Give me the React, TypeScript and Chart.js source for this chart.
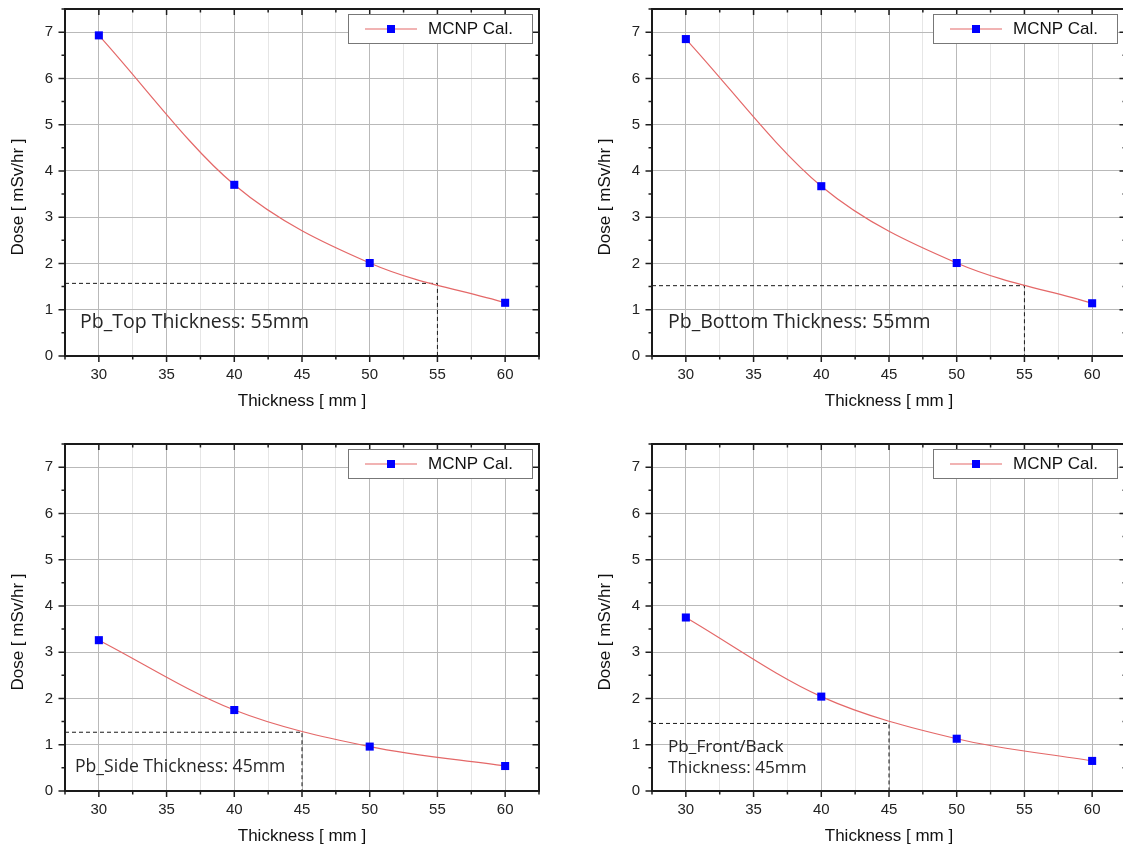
import React, { useEffect, useRef } from "react";
import { Chart, registerables } from "chart.js";

Chart.register(...registerables);

// ---------------- data ----------------
const thickness = [30, 40, 50, 60];
const doseTop = [6.93, 3.7, 2.01, 1.15];
const doseBottom = [6.85, 3.67, 2.01, 1.14];
const doseSide = [3.26, 1.75, 0.96, 0.54];
const doseFrontBack = [3.75, 2.04, 1.13, 0.65];

const designThickness = [55, 55, 45, 45];
const designDose = [1.57, 1.52, 1.27, 1.46];

const noteTop = ["Pb_Top Thickness: 55mm"];
const noteBottom = ["Pb_Bottom Thickness: 55mm"];
const noteSide = ["Pb_Side Thickness: 45mm"];
const noteFrontBack = ["Pb_Front/Back", "Thickness: 45mm"];

const xRange = [27.5, 62.5];
const yRange = [0, 7.5];
const xStep = 2.5;
const yStep = 0.5;

const seriesLabel = "MCNP Cal.";
const xTitle = "Thickness [ mm ]";
const yTitle = "Dose [ mSv/hr ]";

// ---------------- layout ----------------
const PANEL_W = 560;
const PANEL_H = 420;

type PanelSpec = {
  dose: number[];
  cutX: number;
  cutY: number;
  note: string[];
  left: number;
  top: number;
  noteDx: number;
  noteY: number[];
  noteSize: number;
  legendInset: number;
};

const panels: PanelSpec[] = [
  { dose: doseTop, cutX: designThickness[0], cutY: designDose[0], note: noteTop, left: 0, top: 0, noteDx: 15, noteY: [322], noteSize: 19.5, legendInset: 7 },
  { dose: doseBottom, cutX: designThickness[1], cutY: designDose[1], note: noteBottom, left: 587, top: 0, noteDx: 16, noteY: [322], noteSize: 19.5, legendInset: 9 },
  { dose: doseSide, cutX: designThickness[2], cutY: designDose[2], note: noteSide, left: 0, top: 435, noteDx: 10, noteY: [332], noteSize: 17.6, legendInset: 7 },
  { dose: doseFrontBack, cutX: designThickness[3], cutY: designDose[3], note: noteFrontBack, left: 587, top: 435, noteDx: 16, noteY: [312, 333], noteSize: 17.2, legendInset: 9 },
];

const AXIS_FONT = '"Liberation Sans", Arial, sans-serif';
const NOTE_FONT = '"Open Sans", "Noto Sans", sans-serif';

function isMultiple(v: number, m: number) {
  const r = Math.abs(v / m - Math.round(v / m));
  return r < 1e-6;
}

function makeDecor(spec: PanelSpec) {
  return {
    id: "decor",
    afterDraw(chart: any) {
      const { ctx, chartArea: a, scales } = chart;
      const xs = scales.x;
      const ys = scales.y;
      ctx.save();

      // tick marks
      ctx.strokeStyle = "#1e1e1e";
      ctx.lineWidth = 1.5;
      ctx.beginPath();
      for (let v = xRange[0]; v <= xRange[1] + 1e-9; v += xStep) {
        const px = xs.getPixelForValue(v);
        const len = isMultiple(v, 5) ? 6 : 3.5;
        ctx.moveTo(px, a.bottom);
        ctx.lineTo(px, a.bottom + len);
        ctx.moveTo(px, a.top);
        ctx.lineTo(px, a.top + len);
      }
      for (let v = yRange[0]; v <= yRange[1] + 1e-9; v += yStep) {
        const py = ys.getPixelForValue(v);
        const len = isMultiple(v, 1) ? 6.5 : 3.5;
        ctx.moveTo(a.left, py);
        ctx.lineTo(a.left - len, py);
        ctx.moveTo(a.right, py);
        ctx.lineTo(a.right - len, py);
      }
      ctx.stroke();

      // frame
      ctx.lineWidth = 2;
      ctx.strokeStyle = "#1a1a1a";
      ctx.strokeRect(a.left, a.top, a.right - a.left, a.bottom - a.top);

      // axis titles
      ctx.fillStyle = "#111";
      ctx.font = `17px ${AXIS_FONT}`;
      ctx.textAlign = "center";
      ctx.textBaseline = "middle";
      ctx.fillText(xTitle, (a.left + a.right) / 2, 401);
      ctx.save();
      ctx.translate(18.5, 197);
      ctx.rotate(-Math.PI / 2);
      ctx.fillText(yTitle, 0, 0);
      ctx.restore();

      // legend
      const bw = 184;
      const bh = 29;
      const bx = a.right - spec.legendInset - bw;
      const by = a.top + 5;
      ctx.fillStyle = "#ffffff";
      ctx.fillRect(bx, by, bw, bh);
      ctx.lineWidth = 1;
      ctx.strokeStyle = "#777";
      ctx.strokeRect(bx + 0.5, by + 0.5, bw, bh);
      const my = by + bh / 2 + 0.5;
      ctx.strokeStyle = "#e46868";
      ctx.lineWidth = 1.2;
      ctx.beginPath();
      ctx.moveTo(bx + 17, my);
      ctx.lineTo(bx + 69, my);
      ctx.stroke();
      ctx.fillStyle = "#0000ff";
      ctx.fillRect(bx + 39, my - 4, 8, 8);
      ctx.fillStyle = "#111";
      ctx.font = `17px ${AXIS_FONT}`;
      ctx.textAlign = "left";
      ctx.textBaseline = "middle";
      ctx.fillText(seriesLabel, bx + 80, my);

      // annotation
      ctx.fillStyle = "#262626";
      ctx.font = `${spec.noteSize}px ${NOTE_FONT}`;
      ctx.textAlign = "left";
      ctx.textBaseline = "middle";
      spec.note.forEach((line, i) => {
        ctx.fillText(line, a.left + spec.noteDx, spec.noteY[i]);
      });

      ctx.restore();
    },
  };
}

function Panel({ spec }: { spec: PanelSpec }) {
  const ref = useRef<HTMLCanvasElement | null>(null);

  useEffect(() => {
    if (!ref.current) return;
    const points = thickness.map((t, i) => ({ x: t, y: spec.dose[i] }));
    const guide = [
      { x: xRange[0], y: spec.cutY },
      { x: spec.cutX, y: spec.cutY },
      { x: spec.cutX, y: yRange[0] },
    ];
    const chart = new Chart(ref.current, {
      type: "scatter",
      data: {
        datasets: [
          {
            label: seriesLabel,
            data: points,
            showLine: false,
            pointStyle: "rect",
            pointRadius: 5.7,
            pointHoverRadius: 5.7,
            pointBackgroundColor: "#0000ff",
            pointBorderColor: "#0000ff",
            pointBorderWidth: 0,
          },
          {
            label: "fit",
            data: points,
            showLine: true,
            pointRadius: 0,
            borderColor: "#e46868",
            borderWidth: 1.2,
            cubicInterpolationMode: "monotone",
          },
          {
            label: "guide",
            data: guide,
            showLine: true,
            pointRadius: 0,
            borderColor: "#1a1a1a",
            borderWidth: 1,
            borderDash: [4, 3],
          },
        ],
      },
      options: {
        responsive: false,
        animation: false,
        events: [],
        layout: { padding: { top: 9, right: 21, left: 0, bottom: 0 } },
        plugins: { legend: { display: false }, tooltip: { enabled: false } },
        scales: {
          x: {
            type: "linear",
            min: xRange[0],
            max: xRange[1],
            afterFit: (s: any) => {
              s.height = 64;
              s.paddingLeft = 0;
              s.paddingRight = 0;
            },
            border: { display: false },
            grid: {
              drawTicks: false,
              lineWidth: 1,
              color: (c: any) => {
                const v = c.tick ? c.tick.value : 0;
                return isMultiple(v, 5) ? "#b9b9b9" : "#e6e6e6";
              },
            },
            ticks: {
              stepSize: xStep,
              autoSkip: false,
              maxRotation: 0,
              padding: 10,
              color: "#222",
              font: { family: AXIS_FONT, size: 15 },
              callback: (v: any) => (isMultiple(Number(v), 5) ? String(v) : ""),
            },
          },
          y: {
            type: "linear",
            min: yRange[0],
            max: yRange[1],
            afterFit: (s: any) => {
              s.width = 65;
              s.paddingTop = 0;
              s.paddingBottom = 0;
            },
            border: { display: false },
            grid: {
              drawTicks: false,
              lineWidth: 1,
              color: "#b9b9b9",
            },
            ticks: {
              stepSize: yStep,
              autoSkip: false,
              padding: 12,
              color: "#222",
              font: { family: AXIS_FONT, size: 15 },
              callback: (v: any) => (isMultiple(Number(v), 1) ? String(v) : null),
            },
          },
        },
      },
      plugins: [makeDecor(spec)],
    } as any);
    return () => chart.destroy();
  }, [spec]);

  return (
    <div style={{ position: "absolute", left: spec.left, top: spec.top, width: PANEL_W, height: PANEL_H }}>
      <canvas ref={ref} width={PANEL_W} height={PANEL_H} style={{ width: PANEL_W, height: PANEL_H, display: "block" }} />
    </div>
  );
}

export default function App() {
  return (
    <div
      style={{
        position: "fixed",
        left: 0,
        top: 0,
        width: 1123,
        height: 847,
        overflow: "hidden",
        background: "#ffffff",
      }}
    >
      {panels.map((p, i) => (
        <Panel key={i} spec={p} />
      ))}
    </div>
  );
}
